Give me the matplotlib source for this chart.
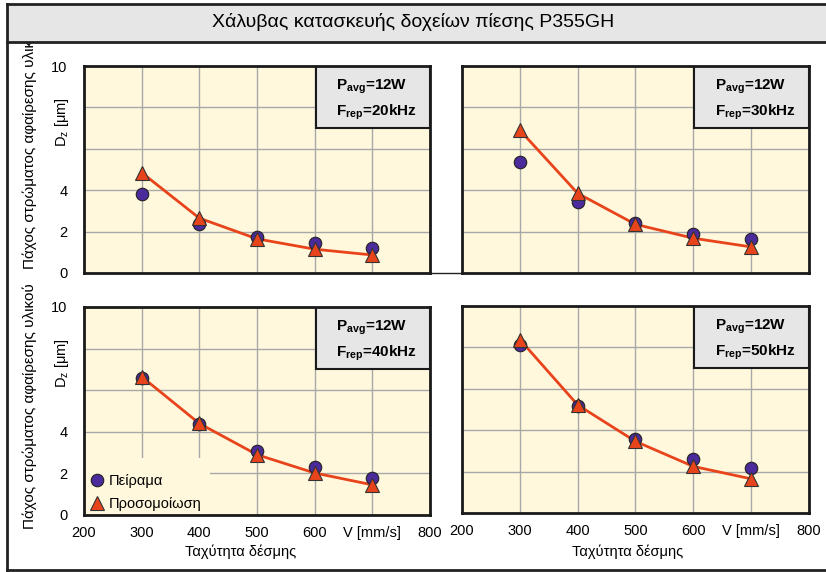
import matplotlib
matplotlib.use("Agg")
import matplotlib.pyplot as plt
from matplotlib.patches import Rectangle
from matplotlib.lines import Line2D

# data
speed = [300, 400, 500, 600, 700]
freq_labels = ["20kHz", "30kHz", "40kHz", "50kHz"]
exp_20 = [3.8, 2.37, 1.75, 1.45, 1.2]
sim_20 = [4.85, 2.65, 1.65, 1.15, 0.87]
exp_30 = [5.35, 3.45, 2.43, 1.87, 1.64]
sim_30 = [6.9, 3.85, 2.35, 1.68, 1.26]
exp_40 = [6.57, 4.37, 3.06, 2.3, 1.8]
sim_40 = [6.65, 4.4, 2.9, 2.02, 1.45]
exp_50 = [8.1, 5.15, 3.58, 2.6, 2.17]
sim_50 = [8.38, 5.22, 3.46, 2.25, 1.65]
x_ticks = [200, 300, 400, 500, 600, 700, 800]
x_ticklabels = ["200", "300", "400", "500", "600", "V [mm/s]", "800"]
y_ticks = [0, 2, 4, 6, 8, 10]
y_ticklabels = ["0", "2", "4", "", "", "10"]

title = "Χάλυβας κατασκευής δοχείων πίεσης P355GH"
ylabel_outer = "Πάχος στρώματος αφαίρεσης υλικού"
xlabel = "Ταχύτητα δέσμης"

FONT = ["Liberation Sans Narrow", "Liberation Sans", "DejaVu Sans"]
plt.rcParams["font.family"] = FONT
plt.rcParams["mathtext.fontset"] = "custom"
plt.rcParams["mathtext.rm"] = "Liberation Sans"
plt.rcParams["mathtext.bf"] = "Liberation Sans:bold"
plt.rcParams["mathtext.it"] = "Liberation Sans"

BG = "#fff8dc"
GRID = "#a8a8a8"
PURPLE = "#4b2a9c"
ORANGE = "#e8441c"
BOX = "#e6e6e6"

W, H = 826, 572
fig = plt.figure(figsize=(W / 100, H / 100), dpi=100)


def fx(px):
    return px / W


def fy(py):
    return 1 - py / H


panels = [
    (84, 66, 430, 273, exp_20, sim_20, freq_labels[0], True, False),
    (462, 66, 809, 273, exp_30, sim_30, freq_labels[1], False, False),
    (84, 307, 430, 515, exp_40, sim_40, freq_labels[2], True, True),
    (462, 306, 809, 513, exp_50, sim_50, freq_labels[3], False, True),
]

for i, (l, t, r, b, exp, sim, flab, left, bottom) in enumerate(panels):
    ax = fig.add_axes([fx(l), fy(b), fx(r - l), (b - t) / H])
    ax.set_facecolor(BG)
    ax.set_xlim(200, 800)
    ax.set_ylim(0, 10)
    ax.set_axisbelow(True)
    ax.grid(True, color=GRID, lw=1.0)
    ax.set_xticks(x_ticks)
    ax.set_yticks(y_ticks)
    ax.tick_params(length=0, labelsize=10.5)
    ax.tick_params(axis="y", pad=12)
    ax.tick_params(axis="x", pad=8)
    if left:
        ax.set_yticklabels(y_ticklabels)
        ax.text(-0.065, 0.73, "D$_{z}$ [μm]", transform=ax.transAxes, rotation=90,
                ha="center", va="center", fontsize=10.5)
    else:
        ax.set_yticklabels([])
    if bottom:
        ax.set_xticklabels(x_ticklabels)
    else:
        ax.set_xticklabels([])
    for s in ax.spines.values():
        s.set_linewidth(2)
        s.set_color("#1a1a1a")
        s.set_zorder(6)

    ax.plot(speed, sim, color=ORANGE, lw=2, zorder=2)
    ax.plot(speed, exp, "o", ms=9, mfc=PURPLE, mec="#222222", mew=0.8, zorder=3,
            label="Πείραμα")
    ax.plot(speed, sim, "^", ms=10, mfc=ORANGE, mec="#333333", mew=0.8, zorder=4,
            label="Προσομοίωση")

    # parameter box
    ax.add_patch(Rectangle((0.67, 0.70), 0.33, 0.30, transform=ax.transAxes,
                           facecolor=BOX, edgecolor="#1a1a1a", lw=1.5, zorder=5))
    ax.text(0.728, 0.90, r"P$_{\mathbf{avg}}$=12W", transform=ax.transAxes,
            ha="left", va="center", fontsize=11, fontweight="bold",
            family="Liberation Sans", zorder=6)
    ax.text(0.728, 0.775, r"F$_{\mathbf{rep}}$=" + flab, transform=ax.transAxes,
            ha="left", va="center", fontsize=11, fontweight="bold",
            family="Liberation Sans", zorder=6)

    if i == 2:
        ax.add_patch(Rectangle((0, 0), 0.364, 0.274, transform=ax.transAxes,
                               facecolor=BG, edgecolor="none", zorder=1))
        ax.legend(loc="lower left", frameon=False, fontsize=10.5, handletextpad=0.2,
                  borderaxespad=0.1, labelspacing=0.6, handlelength=1.2,
                  borderpad=0.2, numpoints=1)

# x labels under bottom panels
fig.text(fx(241), fy(552), xlabel, ha="center", va="center", fontsize=10.5)
fig.text(fx(628), fy(552), xlabel, ha="center", va="center", fontsize=10.5)

# outer y labels
fig.text(fx(30), fy(146), ylabel_outer, rotation=90, ha="center", va="center", fontsize=11)
fig.text(fx(30), fy(406), ylabel_outer, rotation=90, ha="center", va="center", fontsize=11)

# title band drawn over the clipped top label
fig.patches.append(Rectangle((fx(7), fy(42)), 1 - fx(7), (42 - 4) / H,
                             transform=fig.transFigure, facecolor=BOX,
                             edgecolor="none", zorder=5))
fig.text(0.5, fy(22), title, ha="center", va="center", fontsize=14, zorder=6)
for y in (4, 42, 570):
    fig.lines.append(Line2D([fx(7), 1], [fy(y), fy(y)], transform=fig.transFigure,
                            color="#222222", lw=2, zorder=7))
fig.lines.append(Line2D([fx(7), fx(7)], [fy(4), fy(570)], transform=fig.transFigure,
                        color="#222222", lw=2, zorder=7))
# thin link between upper panels
fig.lines.append(Line2D([fx(430), fx(462)], [fy(273), fy(273)], transform=fig.transFigure,
                        color="#222222", lw=1, zorder=7))

fig.savefig("out.png", dpi=100)
